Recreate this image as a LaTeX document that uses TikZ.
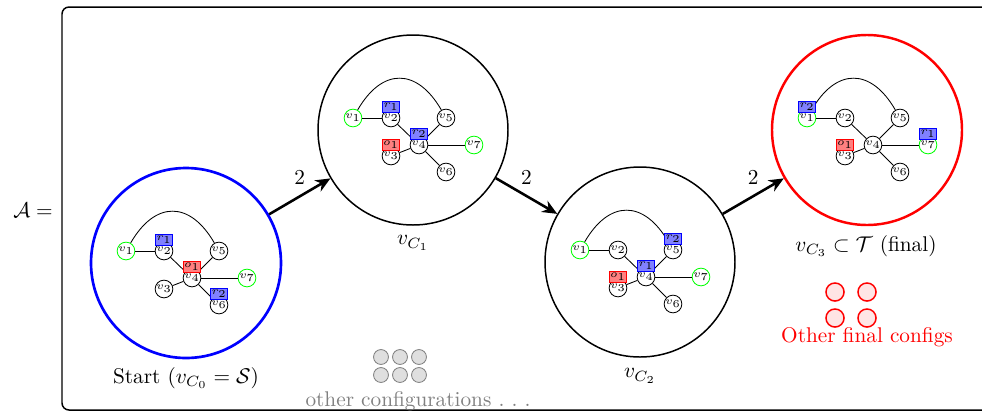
\documentclass[tikz,border=0pt]{standalone}
\usetikzlibrary{arrows.meta}

% One configuration graph: seven vertices, terminals v1 and v7 in green.
% #1 = name prefix, #2 = centre of the enclosing configuration circle.
\newcommand{\cfggraph}[2]{%
  \begin{scope}[shift={#2}]
    \node[term] (#1v1) at (-60,-12) {$v_1$};
    \node[vtx]  (#1v2) at (-22,-12) {$v_2$};
    \node[vtx]  (#1v5) at (33,-12)  {$v_5$};
    \node[vtx]  (#1v4) at (6,15)    {$v_4$};
    \node[term] (#1v7) at (61,15)   {$v_7$};
    \node[vtx]  (#1v3) at (-22,26)  {$v_3$};
    \node[vtx]  (#1v6) at (33,42)   {$v_6$};
    \draw (#1v1) -- (#1v2);
    \draw (#1v2) -- (#1v4);
    \draw (#1v5) -- (#1v4);
    \draw (#1v3) -- (#1v4);
    \draw (#1v4) -- (#1v7);
    \draw (#1v4) -- (#1v6);
    \draw (#1v1) to[out=60,in=120,looseness=1.5] (#1v5);
  \end{scope}}

\begin{document}
\begin{tikzpicture}[x=0.47pt,y=-0.47pt,
  vtx/.style={circle,draw,fill=white,minimum size=8.2pt,inner sep=0pt,
              font=\fontsize{4.2}{5}\selectfont},
  term/.style={vtx,draw=green},
  robot/.style={draw=blue,fill=blue!50,minimum width=7pt,minimum height=5.2pt,
                inner sep=0.3pt,font=\tiny},
  obst/.style={robot,draw=red,fill=red!50},
  config/.style={circle,draw,line width=0.7pt,minimum size=89.3pt,inner sep=0pt},
  move/.style={-{Stealth[length=7pt,width=6pt]},line width=1.2pt},
  other/.style={circle,draw=gray,fill=gray!25,minimum size=7pt,inner sep=0pt},
  final/.style={circle,draw=red,fill=red!10,line width=0.7pt,minimum size=8.5pt,inner sep=0pt},
]
\clip (0,0) rectangle (982,412);

% left-hand side and the frame around the state space
\node (lhs) at (33,210) {$\mathcal{A} =$};
\draw[line width=0.7pt,rounded corners=3.3pt] (62,7) rectangle (1000,410);

% configurations
\node[config,draw=blue,line width=1.25pt] (S)  at (186,263) {};
\node[config]                             (C1) at (413,130) {};
\node[config]                             (C2) at (640,262) {};
\node[config,draw=red,line width=1.15pt]  (C3) at (867,130) {};

\cfggraph{S}{(186,263)}
\cfggraph{A}{(413,130)}
\cfggraph{B}{(640,262)}
\cfggraph{T}{(867,130)}

% robots and obstacle in each configuration
\node[robot] (S-r1) at ([yshift=0.8pt]Sv2.north) {$r_1$};
\node[obst]  (S-o1) at ([yshift=0.8pt]Sv4.north) {$o_1$};
\node[robot] (S-r2) at ([yshift=0.8pt]Sv6.north) {$r_2$};

\node[robot] (A-r1) at ([yshift=0.8pt]Av2.north) {$r_1$};
\node[robot] (A-r2) at ([yshift=0.8pt]Av4.north) {$r_2$};
\node[obst]  (A-o1) at ([yshift=0.8pt]Av3.north) {$o_1$};

\node[robot] (B-r2) at ([yshift=0.8pt]Bv5.north) {$r_2$};
\node[robot] (B-r1) at ([yshift=0.8pt]Bv4.north) {$r_1$};
\node[obst]  (B-o1) at ([yshift=0.8pt]Bv3.north) {$o_1$};

\node[robot] (T-r2) at ([yshift=0.8pt]Tv1.north) {$r_2$};
\node[robot] (T-r1) at ([yshift=0.8pt]Tv7.north) {$r_1$};
\node[obst]  (T-o1) at ([yshift=0.8pt]Tv3.north) {$o_1$};

% transitions
\draw[move] (S)  -- node[above=1.5pt] (w1) {2} (C1);
\draw[move] (C1) -- node[above=1.5pt] (w2) {2} (C2);
\draw[move] (C2) -- node[above=1.5pt] (w3) {2} (C3);

% captions
\node (lS)  at (186,378) {Start ($v_{C_0} = \mathcal{S}$)};
\node (lC1) at (413,243) {$v_{C_1}$};
\node (lC2) at (640,376) {$v_{C_2}$};
\node (lC3) at (866,246) {$v_{C_3} \subset \mathcal{T}$ (final)};

% remaining configurations
\foreach \i/\x/\y in {1/381/357, 2/400/357, 3/419/357, 4/381/375, 5/400/375, 6/419/375}
  \node[other] (g\i) at (\x,\y) {};
\node[text=gray] (lg) at (418,401) {other configurations .\ .\ .};

\foreach \i/\x/\y in {1/835/292, 2/867/292, 3/835/318, 4/867/318}
  \node[final] (f\i) at (\x,\y) {};
\node[text=red] (lf) at (867,337) {Other final configs};
\end{tikzpicture}
\end{document}
